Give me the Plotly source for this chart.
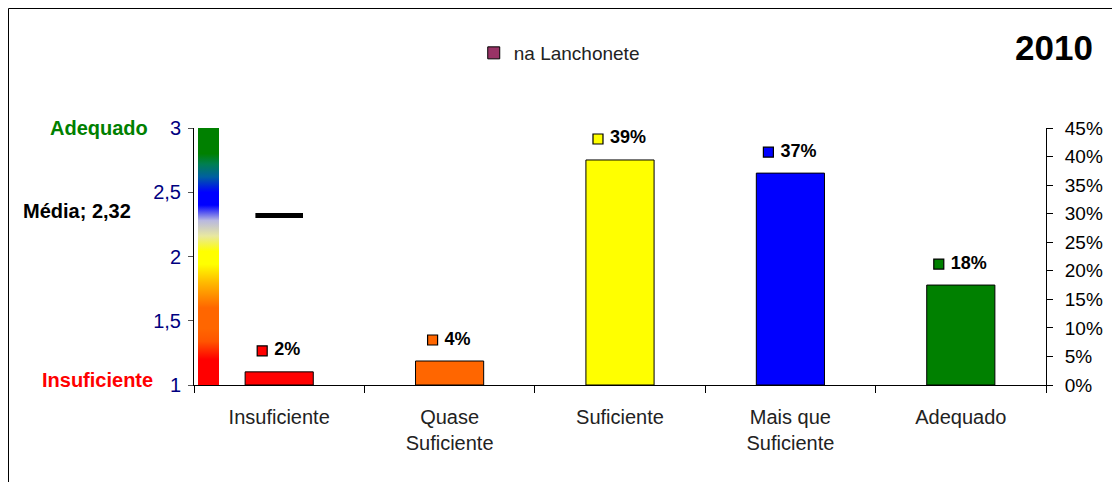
import plotly.graph_objects as go

categories = ["Insuficiente", "Quase<br>Suficiente", "Suficiente", "Mais que<br>Suficiente", "Adequado"]
shares = [0.023, 0.042, 0.394, 0.371, 0.175]
share_labels = ["2%", "4%", "39%", "37%", "18%"]
bar_colors = ["#ff0000", "#ff6600", "#ffff00", "#0000ff", "#008000"]
mean_value = 2.32
mean_label = "Média; 2,32"
series_name = "na Lanchonete"
year = "2010"
left_ticks = [1, 1.5, 2, 2.5, 3]
right_ticks = [0, 0.05, 0.10, 0.15, 0.20, 0.25, 0.30, 0.35, 0.40, 0.45]

# page body has an 8px margin: work in screen coordinates, convert below
OFF = 8
SW, SH = 1120, 482
W, H = SW - OFF, SH - OFF
PL, PR, PT, PB = 194, 1046, 128, 385          # plot area in screen px
ML, MT = PL - OFF, PT - OFF
MR, MB = (SW - PR), (SH - PB)
PW, PH = PR - PL, PB - PT
FONT = "Liberation Sans, Arial, sans-serif"

def px_x(sx):
    return (sx - PL) / PW

def px_y(sy):
    return (PB - sy) / PH

idx = list(range(len(categories)))

fig = go.Figure()

# bars
fig.add_trace(go.Bar(
    x=idx, y=shares, xaxis="x", yaxis="y2",
    marker=dict(color=bar_colors, line=dict(color="black", width=1)),
    width=0.4, showlegend=False, hoverinfo="skip"))
# legend entry
fig.add_trace(go.Bar(
    x=[None], y=[None], xaxis="x", yaxis="y2", name=series_name,
    marker=dict(color="#993366", line=dict(color="black", width=1))))

# data labels: colored square + bold percentage, centred over each bar
cat_px = PW / len(categories)
def text_w(s, size=18):
    w = {"%": 0.889}
    return sum(w.get(c, 0.556) for c in s) * size
sq_x, tx_x, lab_y = [], [], []
for i, (v, lab) in enumerate(zip(shares, share_labels)):
    off_px = -(text_w(lab) + 18) / 2 + 5
    sq_x.append(i + off_px / cat_px)
    tx_x.append(i + (off_px + 12) / cat_px)
    lab_y.append(v + 21 / PH * 0.45)
fig.add_trace(go.Scatter(
    x=sq_x, y=lab_y, xaxis="x", yaxis="y2", mode="markers",
    marker=dict(symbol="square", size=10, color=bar_colors, line=dict(color="black", width=1.2)),
    showlegend=False, hoverinfo="skip", cliponaxis=False))
fig.add_trace(go.Scatter(
    x=tx_x, y=lab_y, xaxis="x", yaxis="y2", mode="text",
    text=["<b>%s</b>" % s for s in share_labels], textposition="middle right",
    textfont=dict(size=18, color="black", family=FONT),
    showlegend=False, hoverinfo="skip", cliponaxis=False))

# mean marker
fig.add_trace(go.Scatter(
    x=[0], y=[mean_value], xaxis="x", yaxis="y", mode="markers",
    marker=dict(symbol="line-ew", size=34, line=dict(color="black", width=5)),
    showlegend=False, hoverinfo="skip", cliponaxis=False))

# gradient scale bar (colorbar of an invisible trace)
scale = [
    [0.0, "#ff0000"], [0.10, "#ff0000"], [0.17, "#ff5500"], [0.22, "#ff6600"],
    [0.30, "#ff6600"], [0.40, "#ffbb00"], [0.47, "#ffff00"], [0.52, "#ffff00"],
    [0.58, "#e8e8a0"], [0.64, "#b8b8e0"], [0.70, "#0000ff"], [0.75, "#0000ff"],
    [0.81, "#0060a0"], [0.86, "#007f50"], [0.90, "#008000"], [1.0, "#008000"]]
fig.add_trace(go.Scatter(
    x=[None], y=[None], xaxis="x", yaxis="y", mode="markers", showlegend=False,
    marker=dict(color=[1], colorscale=scale, cmin=1, cmax=3, showscale=True,
                colorbar=dict(x=px_x(198), xanchor="left", xref="paper", y=0, yanchor="bottom",
                              len=1, lenmode="fraction", thickness=21, thicknessmode="pixels",
                              xpad=0, ypad=0, outlinewidth=0, showticklabels=False, ticks="")),
))

fig.update_layout(
    width=W, height=H, autosize=False,
    margin=dict(l=ML, r=MR, t=MT, b=MB),
    paper_bgcolor="white", plot_bgcolor="white",
    separators=",.",
    font=dict(family=FONT, size=18, color="#222222"),
    xaxis=dict(range=[-0.5, 4.5], tickvals=idx, ticktext=categories, showgrid=False,
               showline=True, linecolor="black", linewidth=1, ticks="",
               minor=dict(tick0=0.5, dtick=1, ticks="outside", ticklen=7, tickcolor="black",
                          showgrid=False),
               ticklabelstandoff=14,
               tickfont=dict(size=20, color="#222222"), zeroline=False, fixedrange=True),
    yaxis=dict(range=[1, 3], tickvals=left_ticks, showgrid=False, showline=True,
               linecolor="black", linewidth=1, ticks="outside", ticklen=5, tickcolor="#555555",
               ticklabelstandoff=3,
               tickfont=dict(size=20, color="#000080"), zeroline=False, fixedrange=True),
    yaxis2=dict(range=[0, 0.45], tickvals=right_ticks, tickformat=".0%", overlaying="y",
                side="right", showgrid=False, showline=True, linecolor="black", linewidth=1,
                ticks="outside", ticklen=6, tickcolor="black", zeroline=False,
                ticklabelstandoff=8,
                tickfont=dict(size=19, color="black"), fixedrange=True),
    legend=dict(orientation="h", x=px_x(478) - 0.005, xanchor="left",
                y=px_y(53), yanchor="middle", itemwidth=30,
                font=dict(size=19, color="#222222"), bgcolor="rgba(0,0,0,0)"),
)

# side labels
fig.add_annotation(text="<b>Adequado</b>", xref="paper", yref="y", x=px_x(150), y=3,
                   xanchor="right", yanchor="middle", showarrow=False,
                   font=dict(size=20, color="#008000", family=FONT))
fig.add_annotation(text="<b>Insuficiente</b>", xref="paper", yref="paper", x=px_x(155),
                   y=px_y(380), xanchor="right", yanchor="middle", showarrow=False,
                   font=dict(size=20, color="#ff0000", family=FONT))
fig.add_annotation(text="<b>%s</b>" % mean_label, xref="paper", yref="paper",
                   x=px_x(133), y=px_y(211),
                   xanchor="right", yanchor="middle", showarrow=False,
                   font=dict(size=20, color="black", family=FONT))
fig.add_annotation(text="<b>%s</b>" % year, xref="paper", yref="paper",
                   x=px_x(1095), y=px_y(47),
                   xanchor="right", yanchor="middle", showarrow=False,
                   font=dict(size=35, color="black", family=FONT))

# chart-area border (left and top edges visible)
bx0 = px_x(8.5)
by1 = px_y(8.5)
fig.add_shape(type="line", xref="paper", yref="paper", x0=bx0, x1=bx0, y0=-1, y1=by1,
              line=dict(color="black", width=1))
fig.add_shape(type="line", xref="paper", yref="paper", x0=bx0, x1=2, y0=by1, y1=by1,
              line=dict(color="black", width=1))

fig.write_html("out.html")
